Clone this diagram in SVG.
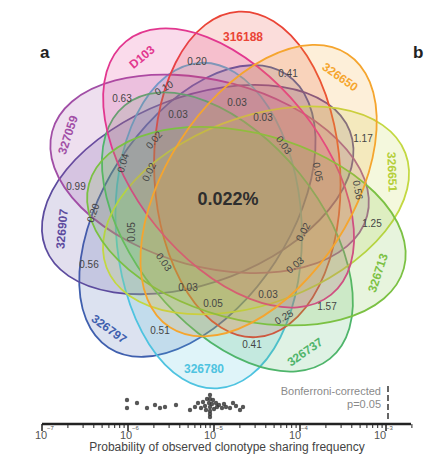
<svg xmlns="http://www.w3.org/2000/svg" width="442" height="467" viewBox="0 0 442 467">
<style>
.e{stroke-width:1.8;fill-opacity:0.18}
.lab{font-family:"Liberation Sans",Arial,sans-serif;font-weight:bold;font-size:12px;text-anchor:middle;dominant-baseline:central}
.n{font-family:"Liberation Sans",Arial,sans-serif;font-size:10px;fill:#454545;text-anchor:middle;dominant-baseline:central}
.t{font-family:"Liberation Sans",Arial,sans-serif;fill:#555}
.d{fill:#3a3a3a;fill-opacity:0.85}
</style>
<rect width="442" height="467" fill="#ffffff"/>
<text x="40" y="58" font-family="Liberation Sans,Arial,sans-serif" font-weight="bold" font-size="17" fill="#222">a</text>
<text x="413" y="58" font-family="Liberation Sans,Arial,sans-serif" font-weight="bold" font-size="17" fill="#222">b</text>
<g id="sets">
<g id="s326797"><ellipse class="e" cx="197.4" cy="211" rx="163" ry="93" transform="rotate(303 197.4 211)" fill="#3f5fae" stroke="#3f5fae"/></g>
<g id="s326907"><ellipse class="e" cx="197.7" cy="189.6" rx="163" ry="93" transform="rotate(339 197.7 189.6)" fill="#5c4b9e" stroke="#5c4b9e"/></g>
<g id="s326780"><ellipse class="e" cx="208.7" cy="225.6" rx="163" ry="93" transform="rotate(267 208.7 225.6)" fill="#4ec3e0" stroke="#4ec3e0"/></g>
<g id="s327059"><ellipse class="e" cx="209.6" cy="173.8" rx="163" ry="93" transform="rotate(15 209.6 173.8)" fill="#a14ea6" stroke="#a14ea6"/></g>
<g id="s316188"><ellipse class="e" cx="247.3" cy="174.4" rx="163" ry="93" transform="rotate(87 247.3 174.4)" fill="#ea4436" stroke="#ea4436"/></g>
<g id="s326737"><ellipse class="e" cx="227.4" cy="232" rx="163" ry="93" transform="rotate(231 227.4 232)" fill="#4fb56b" stroke="#4fb56b"/></g>
<g id="s326651"><ellipse class="e" cx="256" cy="210.4" rx="160" ry="93" transform="rotate(159 256 210.4)" fill="#c3d841" stroke="#c3d841"/></g>
<g id="sD103"><ellipse class="e" cx="228.6" cy="168" rx="163" ry="93" transform="rotate(51 228.6 168)" fill="#e2378f" stroke="#e2378f"/></g>
<g id="s326713"><ellipse class="e" cx="246.4" cy="226.2" rx="163" ry="93" transform="rotate(195 246.4 226.2)" fill="#7bc143" stroke="#7bc143"/></g>
<g id="s326650"><ellipse class="e" cx="258.6" cy="190.6" rx="163" ry="93" transform="rotate(123 258.6 190.6)" fill="#f5a52e" stroke="#f5a52e"/></g>
</g>
<g id="setlabels">
<text class="lab" x="68" y="135" fill="#a14ea6" transform="rotate(-72 68 135)">327059</text>
<text class="lab" x="142" y="57" fill="#e2378f" transform="rotate(-40 142 57)">D103</text>
<text class="lab" x="243" y="37" fill="#ea4436">316188</text>
<text class="lab" x="340" y="77" fill="#f5a52e" transform="rotate(35 340 77)">326650</text>
<text class="lab" x="392" y="172" fill="#b5cf3a" transform="rotate(88 392 172)">326651</text>
<text class="lab" x="378" y="273" fill="#7bc143" transform="rotate(-72 378 273)">326713</text>
<text class="lab" x="305" y="352" fill="#4fb56b" transform="rotate(-35 305 352)">326737</text>
<text class="lab" x="204" y="369" fill="#4ec3e0">326780</text>
<text class="lab" x="109" y="329" fill="#3f5fae" transform="rotate(36 109 329)">326797</text>
<text class="lab" x="62" y="229" fill="#5c4b9e" transform="rotate(-85 62 229)">326907</text>
</g>
<g id="values">
<text class="n" x="197" y="61">0.20</text>
<text class="n" x="288" y="73">0.41</text>
<text class="n" x="122" y="98">0.63</text>
<text class="n" x="164" y="88" transform="rotate(-30 164 88)">0.10</text>
<text class="n" x="178" y="114">0.03</text>
<text class="n" x="237" y="102">0.03</text>
<text class="n" x="263" y="117">0.03</text>
<text class="n" x="284" y="145" transform="rotate(55 284 145)">0.03</text>
<text class="n" x="363" y="138">1.17</text>
<text class="n" x="154" y="140" transform="rotate(-50 154 140)">0.02</text>
<text class="n" x="123" y="163" transform="rotate(-75 123 163)">0.04</text>
<text class="n" x="149" y="172" transform="rotate(-65 149 172)">0.02</text>
<text class="n" x="76" y="186">0.99</text>
<text class="n" x="93" y="213" transform="rotate(-70 93 213)">0.20</text>
<text class="n" x="131" y="232" transform="rotate(-90 131 232)">0.05</text>
<text class="n" x="89" y="264">0.56</text>
<text class="n" x="164" y="262" transform="rotate(55 164 262)">0.03</text>
<text class="n" x="188" y="287">0.03</text>
<text class="n" x="213" y="303">0.05</text>
<text class="n" x="268" y="294">0.03</text>
<text class="n" x="295" y="265" transform="rotate(-40 295 265)">0.03</text>
<text class="n" x="303" y="232" transform="rotate(-62 303 232)">0.02</text>
<text class="n" x="318" y="172" transform="rotate(80 318 172)">0.05</text>
<text class="n" x="358" y="190" transform="rotate(80 358 190)">0.56</text>
<text class="n" x="372" y="223">1.25</text>
<text class="n" x="327" y="306">1.57</text>
<text class="n" x="284" y="317" transform="rotate(-30 284 317)">0.25</text>
<text class="n" x="252" y="344">0.41</text>
<text class="n" x="160" y="330">0.51</text>
<text x="228" y="199" font-family="Liberation Sans,Arial,sans-serif" font-weight="bold" font-size="18" fill="#2e2e2e" text-anchor="middle" dominant-baseline="central">0.022%</text>
</g>
<g id="axis">
<line x1="42" y1="424" x2="411" y2="424" stroke="#222" stroke-width="2.5"/>
<path d="M42 424V431M128 424V431M214 424V431M300 424V431M386 424V431" stroke="#222" stroke-width="1.5"/>
<path d="M67.9 424v4M83.1 424v4M93.8 424v4M102.1 424v4M108.9 424v4M114.7 424v4M119.7 424v4M124.1 424v4M153.9 424v4M169.1 424v4M179.8 424v4M188.1 424v4M194.9 424v4M200.7 424v4M205.7 424v4M210.1 424v4M239.9 424v4M255.1 424v4M265.8 424v4M274.1 424v4M280.9 424v4M286.7 424v4M291.7 424v4M296.1 424v4M325.9 424v4M341.1 424v4M351.8 424v4M360.1 424v4M366.9 424v4M372.7 424v4M377.7 424v4M382.1 424v4M411.9 424v4" stroke="#222" stroke-width="1"/>
<line x1="388" y1="386" x2="388" y2="421" stroke="#666" stroke-width="2" stroke-dasharray="6,3"/>
<g class="t" font-size="11">
<text x="35" y="439">10</text><text x="47" y="430" font-size="6">−7</text>
<text x="120" y="439">10</text><text x="132" y="430" font-size="6">−6</text>
<text x="204" y="439">10</text><text x="216" y="430" font-size="6">−5</text>
<text x="289" y="439">10</text><text x="301" y="430" font-size="6">−4</text>
<text x="374" y="439">10</text><text x="386" y="430" font-size="6">−3</text>
</g>
<text class="t" x="381" y="395" font-size="11" text-anchor="end" style="fill:#8a8a8a">Bonferroni-corrected</text>
<text class="t" x="381" y="408" font-size="11" text-anchor="end" style="fill:#8a8a8a">p=0.05</text>
<text class="t" x="227" y="451" font-size="12" text-anchor="middle" style="fill:#444">Probability of observed clonotype sharing frequency</text>
</g>
<g id="dots">
<circle class="d" cx="127" cy="400" r="2.2"/><circle class="d" cx="127" cy="408" r="2.2"/>
<circle class="d" cx="137" cy="403" r="2.2"/><circle class="d" cx="147" cy="408" r="2.2"/>
<circle class="d" cx="155" cy="405" r="2.2"/><circle class="d" cx="160" cy="408" r="2.2"/>
<circle class="d" cx="165" cy="407" r="2.2"/><circle class="d" cx="176" cy="405" r="2.2"/>
<circle class="d" cx="190" cy="410" r="2.2"/><circle class="d" cx="195" cy="407" r="2.2"/>
<circle class="d" cx="198" cy="403" r="2.2"/><circle class="d" cx="201" cy="408" r="2.2"/>
<circle class="d" cx="203" cy="402" r="2.2"/><circle class="d" cx="205" cy="406" r="2.2"/>
<circle class="d" cx="206" cy="410" r="2.2"/><circle class="d" cx="207" cy="399" r="2.2"/>
<circle class="d" cx="209" cy="403" r="2.2"/><circle class="d" cx="210" cy="395" r="2.2"/>
<circle class="d" cx="210" cy="399" r="2.2"/><circle class="d" cx="210" cy="407" r="2.2"/>
<circle class="d" cx="210" cy="411" r="2.2"/><circle class="d" cx="210" cy="414" r="2.2"/>
<circle class="d" cx="210" cy="417" r="2.2"/><circle class="d" cx="212" cy="404" r="2.2"/>
<circle class="d" cx="213" cy="400" r="2.2"/><circle class="d" cx="214" cy="409" r="2.2"/>
<circle class="d" cx="216" cy="403" r="2.2"/><circle class="d" cx="217" cy="407" r="2.2"/>
<circle class="d" cx="219" cy="405" r="2.2"/><circle class="d" cx="222" cy="408" r="2.2"/>
<circle class="d" cx="224" cy="404" r="2.2"/><circle class="d" cx="226" cy="407" r="2.2"/>
<circle class="d" cx="230" cy="408" r="2.2"/><circle class="d" cx="233" cy="403" r="2.2"/>
<circle class="d" cx="236" cy="406" r="2.2"/><circle class="d" cx="240" cy="410" r="2.2"/>
<circle class="d" cx="243" cy="407" r="2.2"/>
</g>
</svg>
